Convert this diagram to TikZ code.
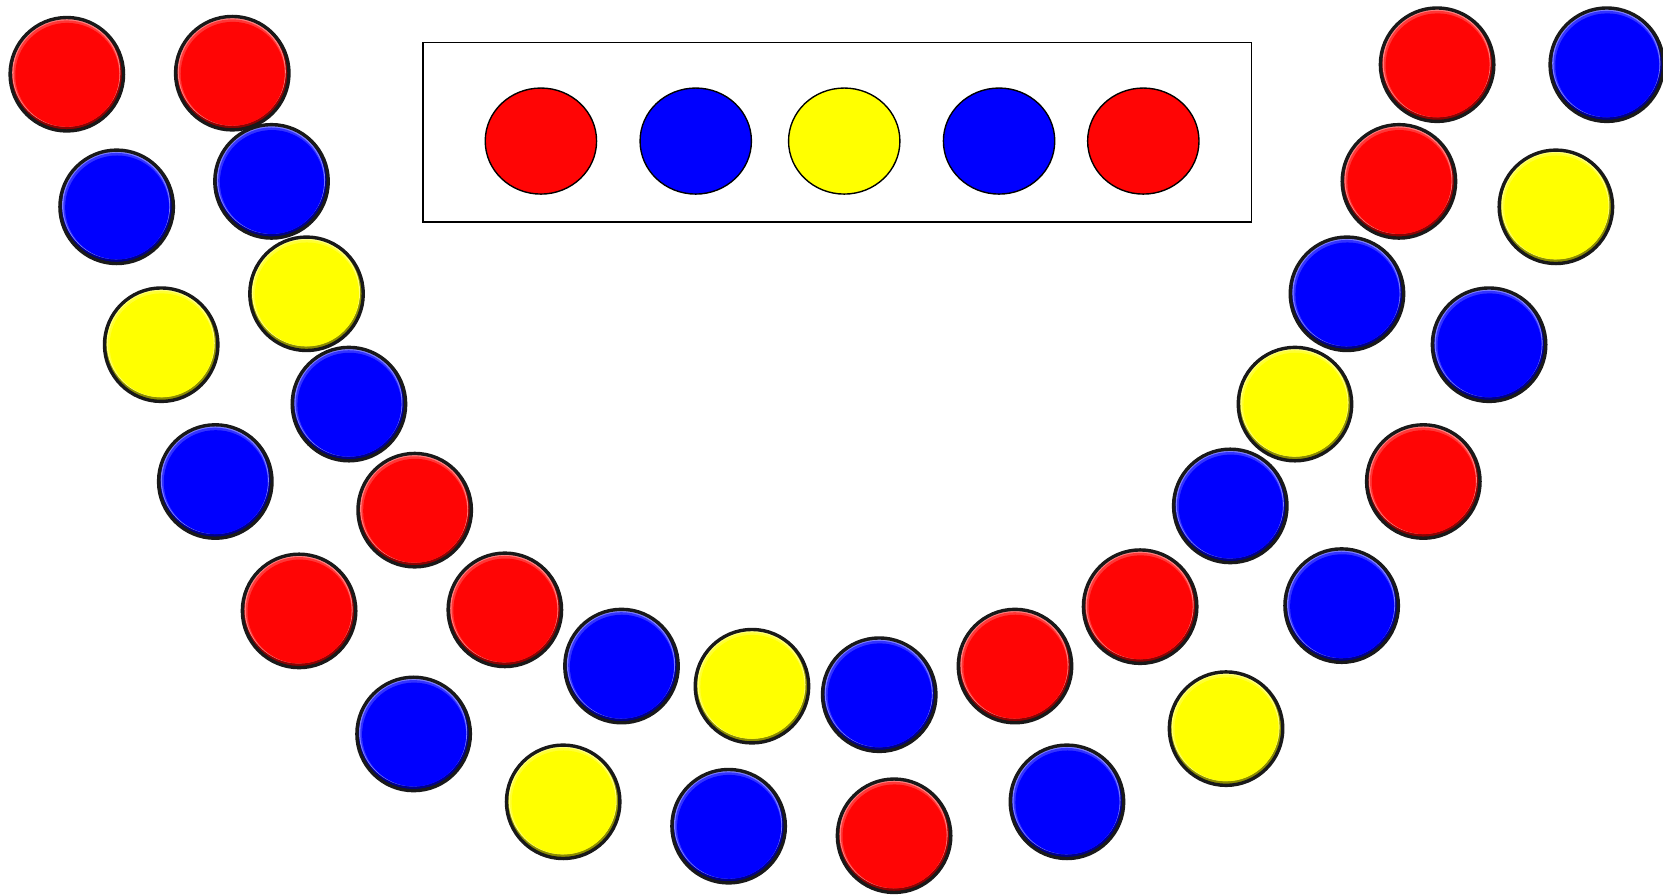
\documentclass[tikz,border=0pt]{standalone}
\usetikzlibrary{shapes.geometric}
\definecolor{bred}{RGB}{255,5,5}
\definecolor{bblue}{RGB}{0,0,255}
\definecolor{byel}{RGB}{255,255,0}
\tikzset{
  bead/.style={circle, draw=black!90, line width=3.2pt, minimum size=107pt, inner sep=0pt, fill=#1,
    path picture={
      \fill[#1!55!black] (path picture bounding box.center) circle (57pt);
      \fill[#1!50!white] ([shift={(-0.5pt,1.5pt)}]path picture bounding box.center) circle (51pt);
      \fill[#1!80!white] ([shift={(-0.3pt,0.8pt)}]path picture bounding box.center) circle (50pt);
      \fill[#1] ([shift={(0.4pt,-0.6pt)}]path picture bounding box.center) circle (49pt);
    }},
  egg/.style={ellipse, draw=black, line width=1.3pt, minimum width=105pt, minimum height=100pt, inner sep=0pt, fill=#1},
  frame/.style={draw=black, line width=1.7pt, fill=white}
}
\begin{document}
\begin{tikzpicture}[x=1pt,y=-1pt]
\useasboundingbox (0,0) rectangle (1568,843);
% legend box
\draw[frame] (399,40) rectangle (1180,209);
\node[egg=bred]  (e1) at (510,133) {};
\node[egg=bblue] (e2) at (656,133) {};
\node[egg=byel]  (e3) at (796,133) {};
\node[egg=bblue] (e4) at (942,133) {};
\node[egg=bred]  (e5) at (1078,133) {};
% outer strand
\node[bead=bred]  (o1)  at (63,70) {};
\node[bead=bblue] (o2)  at (110,195) {};
\node[bead=byel]  (o3)  at (152,325) {};
\node[bead=bblue] (o4)  at (203,454) {};
\node[bead=bred]  (o5)  at (282,576) {};
\node[bead=bblue] (o6)  at (390,692) {};
\node[bead=byel]  (o7)  at (531,756) {};
\node[bead=bblue] (o8)  at (687,779) {};
\node[bead=bred]  (o9)  at (843,788) {};
\node[bead=bblue] (o10) at (1006,756) {};
\node[bead=byel]  (o11) at (1156,687) {};
\node[bead=bblue] (o12) at (1265,571) {};
\node[bead=bred]  (o13) at (1342,454) {};
\node[bead=bblue] (o14) at (1404,325) {};
\node[bead=byel]  (o15) at (1467,195) {};
\node[bead=bblue] (o16) at (1515,61) {};
% inner strand
\node[bead=bred]  (i1)  at (219,69) {};
\node[bead=bblue] (i2)  at (256,171) {};
\node[bead=byel]  (i3)  at (289,277) {};
\node[bead=bblue] (i4)  at (329,381) {};
\node[bead=bred]  (i5)  at (391,481) {};
\node[bead=bred]  (i6)  at (476,575) {};
\node[bead=bblue] (i7)  at (586,628) {};
\node[bead=byel]  (i8)  at (709,647) {};
\node[bead=bblue] (i9)  at (829,655) {};
\node[bead=bred]  (i10) at (957,628) {};
\node[bead=bred]  (i11) at (1075,572) {};
\node[bead=bblue] (i12) at (1160,477) {};
\node[bead=byel]  (i13) at (1221,381) {};
\node[bead=bblue] (i14) at (1270,277) {};
\node[bead=bred]  (i15) at (1319,171) {};
\node[bead=bred]  (i16) at (1355,61) {};
\end{tikzpicture}
\end{document}
